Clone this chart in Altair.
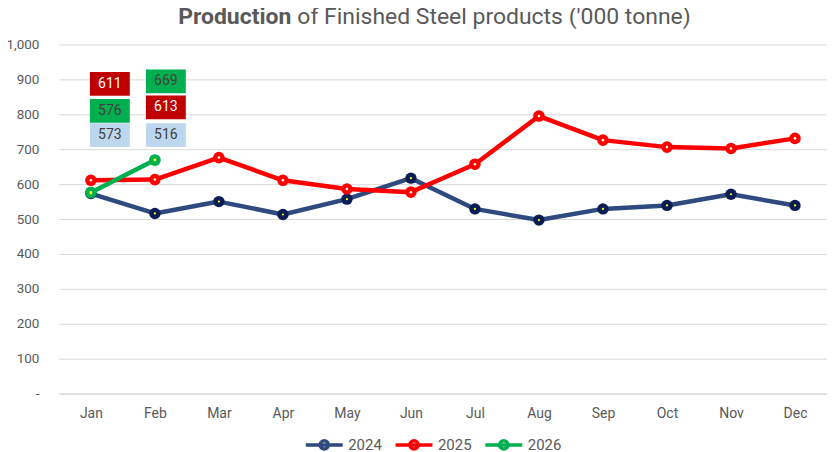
import altair as alt
import pandas as pd

FONT = "Roboto"

MONTHS = ["Jan", "Feb", "Mar", "Apr", "May", "Jun", "Jul", "Aug", "Sep", "Oct", "Nov", "Dec"]
SERIES = ["2024", "2025", "2026"]
V2024 = [573, 516, 550, 513, 557, 617, 529, 497, 529, 539, 571, 539]
V2025 = [611, 613, 676, 611, 586, 577, 657, 795, 726, 706, 702, 731]
V2026 = [576, 669]

# data-label boxes (top to bottom per month)
LABEL_MONTH = ["Jan", "Jan", "Jan", "Feb", "Feb", "Feb"]
LABEL_SERIES = ["2025", "2026", "2024", "2026", "2025", "2024"]
LABEL_TEXT = ["611", "576", "573", "669", "613", "516"]
LABEL_Y = [887, 810, 740, 894, 820, 740]
LABEL_DX = {"Jan": 19, "Feb": 11}

TITLE_BOLD = "Production"
TITLE_REST = "of Finished Steel products ('000 tonne)"

LINE_COLORS = ["#2E4A7F", "#FF0000", "#00B050"]
MARKER_OUTER = ["#0B1D55", "#FF0000", "#00B050"]
MARKER_INNER = ["#FFFF00", "#FFFFFF", "#FFFF00"]
OUTER_SIZES = [130, 140, 95]
INNER_SIZES = [5, 8, 45]
BOX_COLORS = ["#BDD7EE", "#C00000", "#00B050"]
BOX_TEXT = ["#404040", "#FFFFFF", "#404040"]
GRID = "#D9D9D9"
TXT = "#595959"

rows = []
for s, vals in zip(SERIES, [V2024, V2025, V2026]):
    for m, v in zip(MONTHS, vals):
        rows.append({"month": m, "year": s, "value": v})
df = pd.DataFrame(rows)

lab = pd.DataFrame({"month": LABEL_MONTH, "series": LABEL_SERIES,
                    "txt": LABEL_TEXT, "yc": LABEL_Y})

xenc = alt.X("month:N", sort=MONTHS,
             scale=alt.Scale(type="point", domain=MONTHS, padding=0.5),
             axis=alt.Axis(title=None, labelAngle=0, ticks=False, domainColor=GRID,
                           domainWidth=1, labelPadding=13, labelFontSize=14,
                           labelColor=TXT, labelFont=FONT, grid=False))
yscale = alt.Scale(domain=[0, 1000], nice=False)
YAXIS = alt.Axis(title=None, values=list(range(0, 1001, 100)),
                 labelExpr="datum.value == 0 ? '-\u00a0\u00a0' : format(datum.value, ',')",
                 grid=True, gridColor=GRID, gridWidth=1, domain=False,
                 ticks=False, labelPadding=20, labelFontSize=13.5,
                 labelColor=TXT, labelFont=FONT)


def yq(field):
    return alt.Y(field, scale=yscale, axis=YAXIS)


SYMBOL_A = "M-2,0H2M-0.45,0A0.45,0.45,0,1,1,0.45,0A0.45,0.45,0,1,1,-0.45,0Z"
SYMBOL_B = "M-2,0H2M-0.24,0A0.24,0.24,0,1,1,0.24,0A0.24,0.24,0,1,1,-0.24,0Z"

# legend A: line + filled circle in series colour
legend_a = alt.Legend(
    title=None, orient="none", legendX=255, legendY=390, direction="horizontal",
    columns=3, symbolType=SYMBOL_A, symbolSize=342, symbolStrokeWidth=3.5,
    symbolOpacity=1, zindex=0,
    labelFontSize=15, labelColor=TXT, labelFont=FONT, labelOffset=13,
    columnPadding=6, padding=0,
)
# legend B: inner dots of the markers, same geometry, laid over legend A
legend_b = alt.Legend(
    title=None, orient="none", legendX=255, legendY=390, direction="horizontal",
    columns=3, symbolType=SYMBOL_B, symbolSize=342, symbolStrokeWidth=3.5,
    symbolStrokeColor="transparent", symbolOpacity=1, zindex=1,
    labelFontSize=15, labelFont=FONT, labelOffset=13, labelExpr="''",
    columnPadding=39.7, padding=0,
)

lines = alt.Chart(df).mark_line(strokeJoin="round").encode(
    x=xenc, y=yq("value:Q"),
    stroke=alt.Stroke("year:N", scale=alt.Scale(domain=SERIES, range=LINE_COLORS), legend=legend_a),
    strokeWidth=alt.StrokeWidth("year:O", scale=alt.Scale(domain=SERIES, range=[4.5, 4.5, 3]), legend=None),
)

outer = alt.Chart(df).mark_circle(opacity=1).encode(
    x=xenc, y=yq("value:Q"),
    color=alt.Color("year:N", scale=alt.Scale(domain=SERIES, range=MARKER_OUTER), legend=None),
    size=alt.Size("year:O", scale=alt.Scale(domain=SERIES, range=OUTER_SIZES), legend=None),
)

inner = alt.Chart(df).mark_circle(opacity=1).encode(
    x=xenc, y=yq("value:Q"),
    color=alt.Color("year:N", scale=alt.Scale(domain=SERIES, range=MARKER_INNER), legend=legend_b),
    size=alt.Size("year:O", scale=alt.Scale(domain=SERIES, range=INNER_SIZES), legend=None),
)

label_layers = []
for m, dx in LABEL_DX.items():
    base = alt.Chart(lab).transform_filter(alt.datum.month == m)
    box = base.transform_calculate(y0="datum.yc - 34", y1="datum.yc + 34").mark_bar(
        width=40, xOffset=dx).encode(
        x=xenc,
        y=yq("y0:Q"),
        y2="y1:Q",
        color=alt.Color("series:N", scale=alt.Scale(domain=SERIES, range=BOX_COLORS), legend=None),
    )
    txt = base.mark_text(dx=dx, fontSize=14, font=FONT, baseline="middle", align="center").encode(
        x=xenc,
        y=yq("yc:Q"),
        text="txt:N",
        color=alt.Color("series:N", scale=alt.Scale(domain=SERIES, range=BOX_TEXT), legend=None),
    )
    label_layers += [box, txt]

tdf = pd.DataFrame({"a": [TITLE_BOLD], "b": [TITLE_REST]})
t1 = alt.Chart(tdf).mark_text(fontSize=23, fontWeight="bold", font=FONT, color=TXT,
                              align="right", baseline="middle").encode(
    x=alt.value(233), y=alt.value(-28), text="a:N")
t2 = alt.Chart(tdf).mark_text(fontSize=23, font=FONT, color=TXT,
                              align="left", baseline="middle").encode(
    x=alt.value(239), y=alt.value(-28), text="b:N")

chart = alt.layer(lines, outer, inner, *label_layers, t1, t2).resolve_scale(
    color="independent", size="independent", strokeWidth="independent"
).properties(
    width=770, height=350, padding={"left": -3, "top": -3, "right": 0, "bottom": 0}
).configure_view(stroke=None)

chart.save("out.html", embed_options={"renderer": "svg", "actions": False})
